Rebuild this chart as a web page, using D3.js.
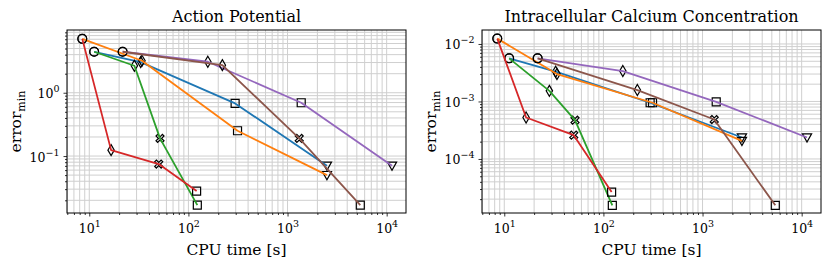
<!DOCTYPE html>
<html>
<head>
<meta charset="utf-8">
<script src="https://cdn.jsdelivr.net/npm/d3@7"></script>
<style>
body { margin: 0; background: #fff; }
svg { display: block; font-family: "DejaVu Serif", "Liberation Serif", serif; }
</style>
</head>
<body>
<svg id="chart" width="831" height="267"></svg>
<script>
(function() {
'use strict';

// series, in matplotlib colour order
var seriesNames = ['s1', 's2', 's3', 's4', 's5', 's6'];
var seriesColors = ['#1f77b4', '#ff7f0e', '#2ca02c', '#d62728', '#9467bd', '#8c564b'];

// CPU time [s] of each point
var cpuTime = [
    [11.2, 33, 296, 2497],
    [8.5, 34, 313, 2497],
    [11.2, 28.5, 51.7, 123],
    [8.5, 16.6, 50.2, 121],
    [21.7, 157, 1374, 11320],
    [21.7, 220, 1312, 5420]
];

// marker of each point
var markers = [
    ['o', 'd', 's', 'v'],
    ['o', 'd', 's', 'v'],
    ['o', 'd', 'X', 's'],
    ['o', 'd', 'X', 's'],
    ['o', 'd', 's', 'v'],
    ['o', 'd', 'X', 's']
];

// error_min, action potential
var errAP = [
    [4.44, 3.05, 0.679, 0.0704],
    [7.1, 3.2, 0.251, 0.050],
    [4.44, 2.67, 0.19, 0.0168],
    [7.1, 0.124, 0.0748, 0.028],
    [4.44, 3.09, 0.695, 0.0704],
    [4.44, 2.73, 0.19, 0.0168]
];

// error_min, intracellular calcium
var errCa = [
    [5.62e-3, 3.29e-3, 9.5e-4, 2.36e-4],
    [1.24e-2, 3.0e-3, 9.5e-4, 2.06e-4],
    [5.62e-3, 1.53e-3, 4.72e-4, 1.56e-5],
    [1.24e-2, 5.26e-4, 2.59e-4, 2.65e-5],
    [5.62e-3, 3.38e-3, 9.86e-4, 2.36e-4],
    [5.62e-3, 1.58e-3, 4.85e-4, 1.56e-5]
];

var titles = ['Action Potential', 'Intracellular Calcium Concentration'];
var xLabel = 'CPU time [s]';

var svg = d3.select('#chart');

var xDomain = [5.96, 15670];
var panels = [
    { left: 67, right: 406, top: 30, bottom: 213, yDomain: [0.0126, 9.8], data: errAP, title: titles[0] },
    { left: 482, right: 821, top: 30, bottom: 213, yDomain: [1.148e-5, 0.0175], data: errCa, title: titles[1] }
];

function logTicks(domain) {
    var major = [], minor = [];
    var lo = Math.floor(Math.log10(domain[0])), hi = Math.ceil(Math.log10(domain[1]));
    for (var e = lo; e <= hi; e++) {
        for (var k = 1; k < 10; k++) {
            var v = k * Math.pow(10, e);
            if (v < domain[0] || v > domain[1]) continue;
            if (k === 1) major.push(v); else minor.push(v);
        }
    }
    return { major: major, minor: minor };
}

function supLabel(sel) {
    sel.each(function(d) {
        var t = d3.select(this);
        var e = Math.round(Math.log10(d));
        t.text('');
        t.append('tspan').text('10');
        t.append('tspan').attr('dy', -6).attr('font-size', 9.5)
            .text(e < 0 ? '\u2212' + (-e) : e);
    });
}

function markerPath(m) {
    var r = 4.4;
    if (m === 'o') return d3.symbol().type(d3.symbolCircle).size(Math.PI * r * r)();
    if (m === 's') return 'M-4,-4L4,-4L4,4L-4,4Z';
    if (m === 'd') return 'M0,-5.5L3.2,0L0,5.5L-3.2,0Z';
    if (m === 'v') return 'M-4.6,-3.6L4.6,-3.6L0,4.6Z';
    // filled X
    var a = 1.6, b = 4;
    return 'M' + [[-b + a, -b], [0, -a], [b - a, -b], [b, -b + a], [a, 0], [b, b - a],
        [b - a, b], [0, a], [-b + a, b], [-b, b - a], [-a, 0], [-b, -b + a]]
        .map(function(p) { return p.join(','); }).join('L') + 'Z';
}

panels.forEach(function(p) {
    var x = d3.scaleLog().domain(xDomain).range([p.left, p.right]);
    var y = d3.scaleLog().domain(p.yDomain).range([p.bottom, p.top]);
    var xt = logTicks(xDomain), yt = logTicks(p.yDomain);

    var g = svg.append('g');

    // grid, major and minor
    var grid = g.append('g').attr('stroke', '#cfcfcf').attr('stroke-width', 1);
    xt.major.concat(xt.minor).forEach(function(v) {
        grid.append('line').attr('x1', x(v)).attr('x2', x(v)).attr('y1', p.top).attr('y2', p.bottom);
    });
    yt.major.concat(yt.minor).forEach(function(v) {
        grid.append('line').attr('x1', p.left).attr('x2', p.right).attr('y1', y(v)).attr('y2', y(v));
    });

    // axes
    var xMaj = g.append('g').attr('transform', 'translate(0,' + p.bottom + ')')
        .call(d3.axisBottom(x).tickValues(xt.major).tickSize(3.5).tickPadding(4));
    g.append('g').attr('transform', 'translate(0,' + p.bottom + ')')
        .call(d3.axisBottom(x).tickValues(xt.minor).tickSize(2).tickFormat(''));
    var yMaj = g.append('g').attr('transform', 'translate(' + p.left + ',0)')
        .call(d3.axisLeft(y).tickValues(yt.major).tickSize(3.5).tickPadding(4));
    g.append('g').attr('transform', 'translate(' + p.left + ',0)')
        .call(d3.axisLeft(y).tickValues(yt.minor).tickSize(2).tickFormat(''));
    g.selectAll('.domain').remove();
    g.selectAll('.tick line').attr('stroke', '#000').attr('stroke-width', 0.8);
    g.selectAll('.tick text').attr('font-family', '"DejaVu Serif", serif')
        .attr('font-size', 12.5).attr('fill', '#000');
    xMaj.selectAll('.tick text').attr('dy', '1em').call(supLabel);
    yMaj.selectAll('.tick text').attr('dy', '0.4em').call(supLabel);

    // lines and markers
    var line = d3.line().x(function(d) { return x(d[0]); }).y(function(d) { return y(d[1]); });
    seriesNames.forEach(function(name, i) {
        var pts = cpuTime[i].map(function(t, j) { return [t, p.data[i][j], markers[i][j]]; });
        var sg = g.append('g').attr('class', 'series-' + name);
        sg.selectAll('path.mk').data(pts).enter().append('path')
            .attr('class', 'mk')
            .attr('transform', function(d) { return 'translate(' + x(d[0]) + ',' + y(d[1]) + ')'; })
            .attr('d', function(d) { return markerPath(d[2]); })
            .attr('fill', 'none').attr('stroke', '#000').attr('stroke-width', 1.2);
        sg.append('path').datum(pts).attr('d', line)
            .attr('fill', 'none').attr('stroke', seriesColors[i]).attr('stroke-width', 1.8)
            .attr('stroke-linejoin', 'round');
    });

    // frame
    g.append('rect').attr('x', p.left).attr('y', p.top)
        .attr('width', p.right - p.left).attr('height', p.bottom - p.top)
        .attr('fill', 'none').attr('stroke', '#000').attr('stroke-width', 1);

    // title and labels
    g.append('text').attr('x', (p.left + p.right) / 2).attr('y', 22)
        .attr('text-anchor', 'middle').attr('font-size', 16).text(p.title);
    g.append('text').attr('x', (p.left + p.right) / 2).attr('y', 255)
        .attr('text-anchor', 'middle').attr('font-size', 15.5).text(xLabel);
    var yl = g.append('text').attr('transform', 'translate(' + (p.left - 46) + ',' + ((p.top + p.bottom) / 2) + ') rotate(-90)')
        .attr('text-anchor', 'middle').attr('font-size', 15.5);
    yl.append('tspan').text('error');
    yl.append('tspan').attr('dy', 3.5).attr('font-size', 11).text('min');
});

})();
</script>
</body>
</html>
